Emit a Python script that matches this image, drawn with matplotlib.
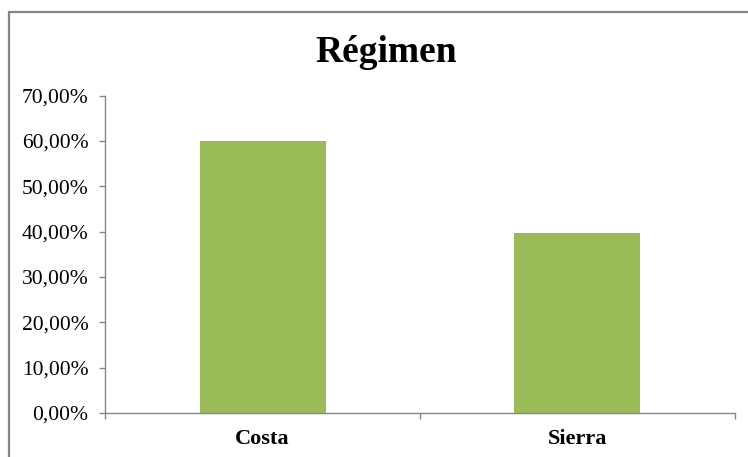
import matplotlib.pyplot as plt
from matplotlib.patches import Rectangle
from matplotlib.ticker import FuncFormatter

# Chart data
categories = ["Costa", "Sierra"]
values = [60.0, 39.7]
y_ticks = [0, 10, 20, 30, 40, 50, 60, 70]

plt.rcParams['font.family'] = ['Liberation Serif', 'DejaVu Serif']

fig = plt.figure(figsize=(7.48, 4.57), dpi=100)
ax = fig.add_axes([0.1404, 0.0963, 0.8422, 0.6943])

x = list(range(len(categories)))
ax.bar(x, values, width=0.4, color='#9BBB59', zorder=2)

ax.set_xlim(-0.5, len(categories) - 0.5)
ax.set_ylim(0, 70)
ax.set_yticks(y_ticks)
ax.yaxis.set_major_formatter(FuncFormatter(lambda v, p: f"{v:.2f}%".replace('.', ',')))

# category boundary ticks on x axis, labels centered
ax.set_xticks([-0.5, 0.5, 1.5])
ax.set_xticklabels([])
ax.set_xticks(x, minor=True)
ax.set_xticklabels(categories, minor=True, fontsize=16, fontweight='bold')
ax.tick_params(axis='x', which='minor', length=0, pad=11.5)
ax.tick_params(axis='x', which='major', length=4.5, color='#868686', width=1)
ax.tick_params(axis='y', length=4.5, color='#868686', width=1, labelsize=15.5, pad=7.5)

for s in ['top', 'right']:
    ax.spines[s].set_visible(False)
for s in ['left', 'bottom']:
    ax.spines[s].set_color('#868686')
    ax.spines[s].set_linewidth(1)

fig.text(0.516, 0.864, "Régimen", ha='center', va='baseline', fontsize=27, fontweight='bold')

# chart area border
fig.patches.append(Rectangle((8.5 / 748, -0.1), 1.2, (457 - 12) / 457 + 0.1,
                             transform=fig.transFigure, fill=False,
                             edgecolor='#868686', linewidth=1.6))

fig.savefig('out.png', dpi=100)
